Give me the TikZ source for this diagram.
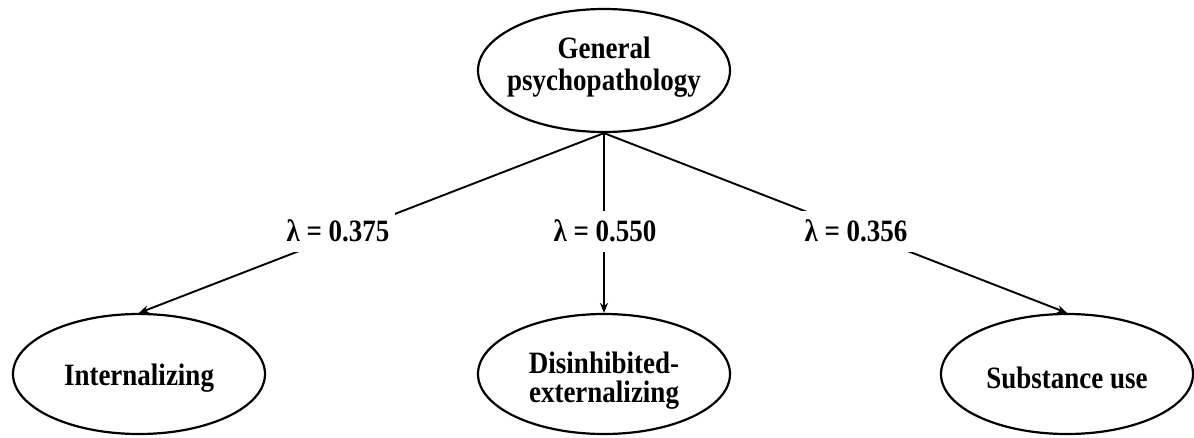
\documentclass[tikz,border=0pt]{standalone}
\usepackage{fontspec}
\usepackage{graphicx}
\setmainfont{Liberation Serif}
\usetikzlibrary{shapes.geometric,arrows.meta}
% one line of factor text, slightly tall, kept narrow for the ellipse sizing;
% the first argument moves the ink up or down without changing the box
\newcommand\fline[2]{\raisebox{#1}[\height][\depth]{\makebox[150pt]{\scalebox{1}[1.15]{#2}}}}
\newcommand\tallword[1]{\scalebox{1}[1.15]{#1}}
\begin{document}
\begin{tikzpicture}[x=1pt,y=-1pt,
  factor/.style={ellipse,draw,line width=2.2pt,minimum width=252pt,minimum height=120pt,
    inner sep=0pt,align=center,font=\fontsize{27}{29}\selectfont\bfseries},
  loading/.style={fill=white,inner xsep=6pt,inner ysep=0pt,minimum height=41pt,
    font=\fontsize{27}{32}\selectfont\bfseries},
  path/.style={line width=1.9pt,-{Stealth[length=10pt,width=8pt]}}]
\useasboundingbox (0,0) rectangle (1194,437);
% latent factors
\node[factor,minimum height=123pt,font=\fontsize{27}{32}\selectfont\bfseries] (gp) at (604,70.5)
  {\fline{3pt}{General}\\\fline{3pt}{psychopathology}};
\node[factor] (int) at (139,374) {\fline{-4pt}{Internalizing}};
\node[factor] (dis) at (604,374)
  {\fline{-7pt}{Disinhibited-}\\\fline{-7pt}{externalizing}};
\node[factor] (sub) at (1067,374) {\fline{-4pt}{Substance use}};
% loadings
\draw[path] (gp.south) -- (int.north);
\draw[path] (gp.south) -- (dis.north);
\draw[path] (gp.south) -- (sub.north);
\node[loading] (l1) at (338,231) {\tallword{λ = 0.375}};
\node[loading] (l2) at (605,231) {\tallword{λ = 0.550}};
\node[loading] (l3) at (856,231) {\tallword{λ = 0.356}};
\end{tikzpicture}
\end{document}
